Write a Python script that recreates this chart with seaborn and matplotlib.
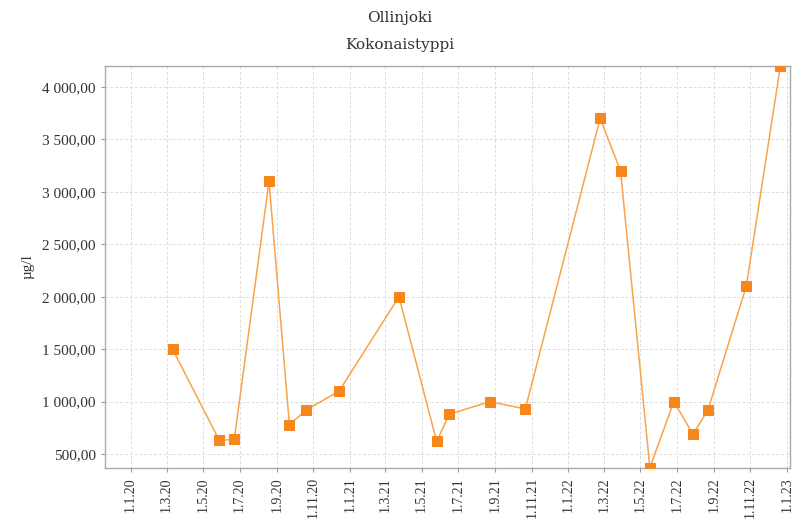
import matplotlib
matplotlib.use("Agg")
import matplotlib.pyplot as plt
import matplotlib.dates as mdates
import matplotlib.ticker as mticker
import seaborn as sns
import pandas as pd

dates = ["2020-03-11", "2020-05-28", "2020-06-22", "2020-08-19", "2020-09-22",
         "2020-10-20", "2020-12-14", "2021-03-24", "2021-05-26", "2021-06-16",
         "2021-08-23", "2021-10-21", "2022-02-23", "2022-03-29", "2022-05-17",
         "2022-06-26", "2022-07-28", "2022-08-22", "2022-10-25", "2022-12-21"]
values = [1500, 630, 640, 3100, 780, 920, 1100, 2000, 620, 880,
          1000, 930, 3700, 3200, 370, 1000, 690, 920, 2100, 4200]
tick_dates = ["2020-01-01", "2020-03-01", "2020-05-01", "2020-07-01", "2020-09-01",
              "2020-11-01", "2021-01-01", "2021-03-01", "2021-05-01", "2021-07-01",
              "2021-09-01", "2021-11-01", "2022-01-01", "2022-03-01", "2022-05-01",
              "2022-07-01", "2022-09-01", "2022-11-01", "2023-01-01"]
tick_labels = ["1.1.20", "1.3.20", "1.5.20", "1.7.20", "1.9.20", "1.11.20",
               "1.1.21", "1.3.21", "1.5.21", "1.7.21", "1.9.21", "1.11.21",
               "1.1.22", "1.3.22", "1.5.22", "1.7.22", "1.9.22", "1.11.22", "1.1.23"]
y_ticks = [500, 1000, 1500, 2000, 2500, 3000, 3500, 4000]

df = pd.DataFrame({"date": pd.to_datetime(dates), "value": values})

sns.set_style("white")
fig = plt.figure(figsize=(7.95, 5.21), dpi=100)
ax = fig.add_axes([0.132, 0.1017, 0.8617, 0.7716])

sns.lineplot(data=df, x="date", y="value", ax=ax, color="#F9A34A", linewidth=1.1,
             marker="s", markersize=7.5, markerfacecolor="#F7861B",
             markeredgecolor="#F7861B", zorder=3)

ax.set_xlim(pd.Timestamp("2019-11-19"), pd.Timestamp("2023-01-06"))
ax.set_ylim(367, 4200)

ax.set_xticks(pd.to_datetime(tick_dates))
ax.set_xticklabels(tick_labels, rotation=90, family="Liberation Serif", fontsize=10, color="#333333")
ax.set_yticks(y_ticks)
ax.yaxis.set_major_formatter(mticker.FuncFormatter(
    lambda v, p: f"{v:,.2f}".replace(",", " ").replace(".", ",")))
for lab in ax.get_yticklabels():
    lab.set_family("Liberation Serif")
    lab.set_fontsize(11)
    lab.set_color("#333333")

ax.grid(True, color="#dddddd", linestyle=(0, (3, 2)), linewidth=0.7)
ax.tick_params(axis="both", which="major", length=3, color="#999999", direction="out")
ax.tick_params(axis="x", bottom=True)
ax.tick_params(axis="y", left=True)
for s in ax.spines.values():
    s.set_color("#aaaaaa")
    s.set_linewidth(1.0)

ax.set_xlabel("")
ax.set_ylabel("µg/l", family="Liberation Serif", fontsize=11, color="#333333", labelpad=6)

fig.text(0.503, 0.965, "Ollinjoki", ha="center", va="center", family="DejaVu Serif",
         fontsize=11, color="#333333")
fig.text(0.503, 0.913, "Kokonaistyppi", ha="center", va="center", family="DejaVu Serif",
         fontsize=11, color="#333333")

fig.savefig("out.png", dpi=100)
